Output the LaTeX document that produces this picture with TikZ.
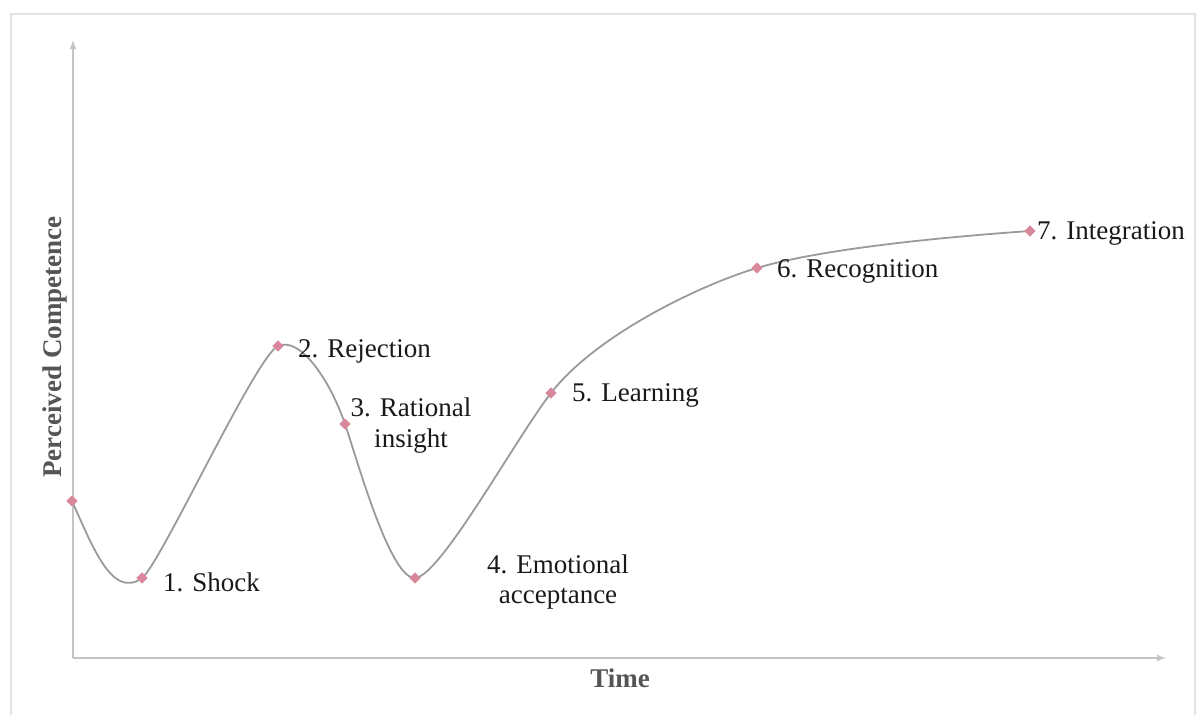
\documentclass[tikz,border=0pt]{standalone}
\usepackage{fontspec}
\setmainfont{Liberation Serif}
\usetikzlibrary{arrows.meta}
\definecolor{framegray}{HTML}{E2E2E2}
\definecolor{axisgray}{HTML}{C4C4C4}
\definecolor{curvegray}{HTML}{9A9A9A}
\definecolor{markpink}{HTML}{D8889A}
\definecolor{titlegray}{HTML}{555555}
\tikzset{
  frameline/.style={draw=framegray, line width=1.5pt},
  axisline/.style={draw=axisgray, line width=1.6pt, -{Latex[length=9pt,width=7pt]}},
  curveline/.style={draw=curvegray, line width=1.8pt},
  stagemark/.style={fill=markpink, draw=none, minimum size=8pt, inner sep=0pt, rectangle, rotate=45},
  stagelabel/.style={font=\fontsize{27}{31}\selectfont, text=black!90, inner sep=0pt},
  axistitle/.style={font=\fontsize{27}{31}\selectfont\bfseries, text=titlegray, inner sep=0pt}
}
\begin{document}
\begin{tikzpicture}[x=1pt, y=-1pt]
\useasboundingbox (0,0) rectangle (1200,715);
% outer frame
\draw[frameline] (11,715) -- (11,14) -- (1195,14) -- (1195,715);

% axes
\coordinate (origin) at (73,658);
\coordinate (ytop) at (73,40);
\coordinate (xend) at (1166,658);
\draw[axisline] (origin) -- (ytop);
\draw[axisline] (origin) -- (xend);
\node[axistitle, rotate=90] (ytitle) at (55,347) {Perceived Competence};
\node[axistitle] (xtitle) at (620,678) {Time};

% stage points
\coordinate (s0) at (72,501);
\coordinate (s1) at (142,578);
\coordinate (s2) at (278,346);
\coordinate (s3) at (345,424);
\coordinate (s4) at (415,578);
\coordinate (s5) at (551,393);
\coordinate (s6) at (757,268);
\coordinate (s7) at (1030,231);

% competence curve, one smooth Bezier piece per stage
\draw[curveline] (s0)
  .. controls (92,545) and (112,600) .. (s1)
  .. controls (160,565) and (256,356) .. (s2)
  .. controls (300,336) and (330,380) .. (s3)
  .. controls (357,459) and (390,579) .. (s4)
  .. controls (440,577) and (516,438) .. (s5)
  .. controls (596,335) and (700,285) .. (s6)
  .. controls (817,250) and (930,238) .. (s7);

% markers
\foreach \p in {s0,s1,s2,s3,s4,s5,s6,s7}
  \node[stagemark] (m\p) at (\p) {};

% stage labels
\node[stagelabel, anchor=west] (l1) at (163,582) {1. Shock};
\node[stagelabel, anchor=west] (l2) at (298,351) {2. Rejection};
\node[stagelabel, align=center] (l3) at (411,426) {3. Rational\\insight};
\node[stagelabel, align=center] (l4) at (558,582) {4. Emotional\\acceptance};
\node[stagelabel, anchor=west] (l5) at (572,395) {5. Learning};
\node[stagelabel, anchor=west] (l6) at (777,271) {6. Recognition};
\node[stagelabel, anchor=west] (l7) at (1037,233) {7. Integration};
\end{tikzpicture}
\end{document}
